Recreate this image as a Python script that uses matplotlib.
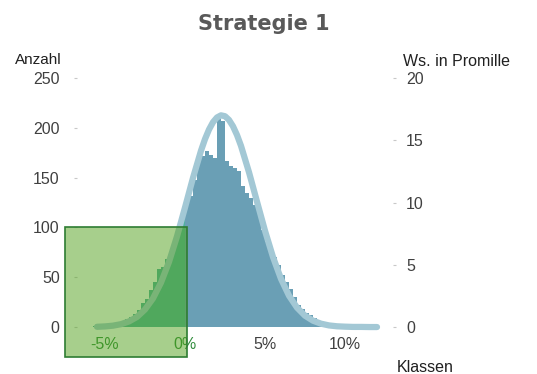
import numpy as np
import matplotlib
matplotlib.use("Agg")
from matplotlib import pyplot as plt
from matplotlib.patches import Rectangle

# Histogram: left edge of each class (in %), width 0.25 %
klassen = np.arange(-5.75, 9.30, 0.25)
anzahl = [1, 1, 2, 2, 3, 4, 5, 6, 8, 10,
          13, 17, 24, 28, 37, 45, 58, 60, 68, 75,
          86, 95, 110, 128, 132, 148, 168, 172, 177, 173,
          170, 209, 207, 167, 162, 160, 157, 142, 135, 130,
          122, 117, 97, 85, 78, 70, 62, 52, 45, 38,
          30, 22, 18, 14, 12, 9, 6, 4, 3, 2, 1]

# Fitted curve (probability in per mille)
kurve_x = [-5.5, -5.0, -4.5, -4.0, -3.5, -3.0, -2.5, -2.0, -1.5, -1.0,
           -0.5, 0.0, 0.5, 1.0, 1.25, 1.5, 1.75, 2.0, 2.25, 2.5,
           2.75, 3.0, 3.25, 3.5, 4.0,
           4.5, 5.0, 5.5, 6.0, 6.5, 7.0, 7.5, 8.0, 8.5, 9.0,
           9.5, 10.0, 10.5, 11.0, 11.5, 12.0]
kurve_y = [0.02, 0.05, 0.11, 0.23, 0.45, 0.81, 1.41, 2.30, 3.57, 5.23,
           7.28, 9.60, 11.98, 14.16, 15.09, 15.86, 16.45, 16.83, 17.0, 16.93,
           16.63, 16.12, 15.42, 14.55, 12.43,
           10.07, 7.73, 5.62, 3.87, 2.52, 1.56, 0.91, 0.51, 0.27, 0.13,
           0.06, 0.03, 0.01, 0.01, 0.0, 0.0]

# Loss region marker
verlust_x = (-7.5, 0.15)
verlust_y = (-30, 100)

left_ticks = [0, 50, 100, 150, 200, 250]
right_ticks = [0, 5, 10, 15, 20]
x_ticks = [-5, 0, 5, 10]
x_labels = ["-5%", "0%", "5%", "10%"]

plt.rcParams['font.family'] = ['Liberation Sans', 'DejaVu Sans']

W, H = 537, 374
fig = plt.figure(figsize=(W / 100, H / 100), dpi=100)

# axes in pixel coords: x 77..393, y 73..337
ax = fig.add_axes([77 / W, (H - 337) / H, (393 - 77) / W, (337 - 73) / H])
ax.set_xlim(-6.75, 13.0)
ax.set_ylim(-10, 255)

bar_cols = ['#50b0a0' if k < 0 else '#6a9fb5' for k in klassen]
ax.bar(klassen, anzahl, width=0.25, align='edge', color=bar_cols,
       linewidth=0, zorder=2)

# second axis sits on top: curve over the bars, green box over everything
ax2 = ax.twinx()
ax2.set_ylim(-10 / 12.5, 255 / 12.5)
ax2.plot(kurve_x, kurve_y, color='#a3c8d5', lw=4.5, solid_joinstyle='round',
         solid_capstyle='round', zorder=3, clip_on=False)

rect = Rectangle((verlust_x[0], verlust_y[0]), verlust_x[1] - verlust_x[0],
                 verlust_y[1] - verlust_y[0], facecolor='#51a11b', alpha=0.5,
                 edgecolor='none', clip_on=False, zorder=5,
                 transform=ax.transData)
ax2.add_patch(rect)
rect_edge = Rectangle((verlust_x[0], verlust_y[0]), verlust_x[1] - verlust_x[0],
                      verlust_y[1] - verlust_y[0], facecolor='none',
                      edgecolor='#2e7d32', lw=1.2, clip_on=False, zorder=6,
                      transform=ax.transData)
ax2.add_patch(rect_edge)

for a in (ax, ax2):
    for s in a.spines.values():
        s.set_visible(False)

ax.set_yticks(left_ticks)
ax.tick_params(axis='y', length=2.5, color='#c8c8c8', pad=10,
               labelsize=11.5, labelcolor='#404040')
ax2.set_yticks(right_ticks)
ax2.tick_params(axis='y', length=2.5, color='#c8c8c8', pad=7,
                labelsize=11.5, labelcolor='#404040')

ax.set_xticks(x_ticks)
ax.set_xticklabels(x_labels)
ax.tick_params(axis='x', length=0, pad=0, labelsize=11.5, labelcolor='#404040')
for lbl, v in zip(ax.get_xticklabels(), x_ticks):
    if v <= 0:
        lbl.set_color('#2e8b3a')

fig.text(264 / W, 1 - 24 / H, "Strategie 1", ha='center', va='center',
         fontsize=15, fontweight='bold', color='#595959', family='DejaVu Sans')
fig.text(62 / W, 1 - 60 / H, "Anzahl", ha='right', va='center',
         fontsize=11, color='#202020')
fig.text(403 / W, 1 - 61 / H, "Ws. in Promille", ha='left', va='center',
         fontsize=11.5, color='#202020')
fig.text(397 / W, 1 - 368 / H, "Klassen", ha='left', va='center',
         fontsize=11.5, color='#202020')

fig.savefig("out.png", dpi=100)
